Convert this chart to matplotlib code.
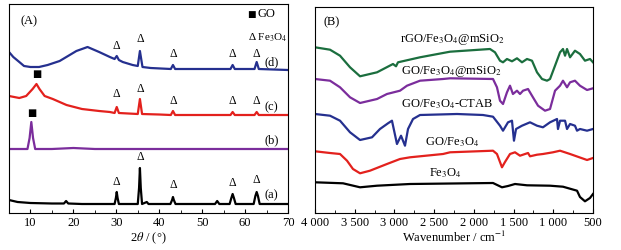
import matplotlib
matplotlib.use("Agg")
import matplotlib.pyplot as plt
from matplotlib.ticker import MultipleLocator, FuncFormatter

plt.rcParams['font.family'] = ['Liberation Serif', 'DejaVu Sans']
plt.rcParams['mathtext.fontset'] = 'stix'

# ---- XRD data (2theta in degrees, intensity in arbitrary units) ----
xrd_a_x = [5, 7, 10, 15, 17.8, 18.3, 18.8, 22, 29.6, 29.9, 30.1, 30.3, 30.6, 35.0, 35.3, 35.5, 35.7, 36.0,
           37.1, 37.5, 42.6, 43.0, 43.2, 43.4, 43.8, 53.0, 53.5, 54.0, 56.4, 56.8, 57.1, 57.4, 57.8,
           62.0, 62.4, 62.7, 63.0, 63.4, 70]
xrd_a_y = [13, 11, 10, 9.5, 9.5, 12, 9.5, 9, 9, 15, 21, 15, 9, 9, 25, 45, 25, 9,
           11, 9, 9, 13, 16, 13, 9, 9, 12, 9, 9, 15, 19, 15, 9,
           9, 17, 21, 17, 9, 9]

xrd_b_x = [5, 9.3, 9.8, 10.2, 10.6, 11.1, 15, 20, 25, 70]
xrd_b_y = [64, 64, 75, 91, 75, 64, 64, 65, 64, 64]

xrd_c_x = [5, 7.4, 9, 10.5, 11.4, 12.1, 13.3, 15.2, 18.4, 22, 26, 28.5, 29.6, 30.1, 30.6, 35.0, 35.5,
           36.0, 40, 42.7, 43.2, 43.7, 50, 56.6, 57.1, 57.6, 62.2, 62.7, 63.2, 70]
xrd_c_y = [117, 115, 117, 124, 129, 124, 117, 114, 108, 104, 102, 101, 100, 106, 100, 99, 114,
           99, 98.5, 98, 102, 98, 98, 98, 101, 98, 98, 101, 98, 98]

xrd_d_x = [5, 6, 7.4, 8.5, 10, 12, 14, 16.8, 20.7, 23.3, 26, 28.5, 29.6, 30.1, 30.6, 31.5, 33.8,
           35.0, 35.5, 36.1, 38, 42.7, 43.2, 43.7, 50, 56.6, 57.1, 57.6, 62.2, 62.7, 63.2, 70]
xrd_d_y = [161, 156, 151, 147, 146, 146, 148, 152, 162, 166, 161, 156, 154, 157, 153, 151, 148,
           147, 162, 146, 145, 144, 148, 144, 144, 144, 148, 144, 144, 151, 144, 143]

# peak markers (2theta) for Fe3O4 and GO
fe_peaks = [30.1, 35.5, 43.2, 57.1, 62.7]
fe_mark_d = [162, 169, 154, 154, 154]
fe_mark_c = [114, 119, 107, 107, 107]
fe_mark_a = [26, 51, 23, 25, 28]
go_peaks = [11.5, 10.2]
go_mark = [135, 96]

# ---- FTIR data (wavenumber cm-1, transmittance arbitrary units) ----
ir_fe_x = [4000, 3647, 3433, 3219, 2804, 1759, 1646, 1570, 1482, 1331, 1041, 878, 701, 664, 601, 538, 500]
ir_fe_y = [30.7, 29.7, 25.7, 27.3, 29, 30, 25.7, 27, 29, 27.7, 27.3, 26.3, 22.3, 16, 11.7, 15, 19]

ir_go_x = [4000, 3811, 3685, 3597, 3522, 3433, 3308, 3094, 2930, 2804, 2388, 2300, 1759, 1709, 1646,
           1608, 1545, 1482, 1419, 1318, 1293, 1205, 1130, 1004, 915, 789, 575, 500]
ir_go_y = [61.7, 60, 59, 52.3, 44, 39.7, 42.3, 49, 54, 55.7, 59, 60.7, 62.3, 59, 45.7,
           51, 59, 60.7, 57.3, 60, 56.7, 58.3, 59, 60.7, 62.3, 59, 53, 55]

ir_ctab_x = [4000, 3811, 3685, 3559, 3433, 3282, 3182, 3081, 3031, 2968, 2917, 2867, 2829, 2766,
             2678, 2212, 1885, 1759, 1671, 1633, 1570, 1520, 1495, 1469, 1394, 1293, 1205, 1130,
             1041, 953, 941, 915, 852, 827, 789, 727, 701, 664, 575, 500]
ir_ctab_y = [99, 97.3, 92.3, 80.7, 73, 75.7, 84, 89.7, 92.3, 69, 77.3, 67.3, 84, 94,
             98, 99, 98, 96.3, 87.3, 82.3, 90.7, 92.3, 72.3, 84, 87.3, 90.7, 87.3, 85.7,
             90.7, 94, 84, 92.3, 92.3, 84, 89, 87.3, 82.3, 84, 82.3, 84]

ir_gom_x = [4000, 3811, 3685, 3559, 3433, 3219, 3094, 2930, 2842, 2678, 2388, 2300, 1759, 1709,
            1671, 1633, 1583, 1545, 1508, 1457, 1419, 1381, 1318, 1256, 1192, 1104, 1041, 978,
            915, 878, 827, 789, 727, 664, 575, 500]
ir_gom_y = [134, 132.3, 125.7, 115.7, 110, 114, 119, 122.3, 127.3, 132.3, 134, 134.7, 134, 125.7,
            112.3, 109, 120.7, 127.3, 119, 122.3, 119, 122.3, 124, 115.7, 107.3, 102.3, 104, 122.3,
            127.3, 132.3, 125.7, 130.7, 132.3, 127.3, 123, 124.7]

ir_rgo_x = [4000, 3811, 3685, 3559, 3433, 3219, 3018, 2980, 2955, 2678, 2388, 2300, 1797, 1734,
            1671, 1633, 1583, 1520, 1457, 1394, 1331, 1268, 1205, 1142, 1079, 1041, 978, 915,
            878, 852, 827, 789, 727, 664, 601, 538, 500]
ir_rgo_y = [165.7, 163.3, 157.3, 145.7, 136.7, 140.7, 149, 146.7, 150.7, 155.7, 160, 161.3, 164, 160.7,
            152.3, 150.7, 154, 151.7, 154.7, 150.7, 154, 152.3, 140.7, 134, 132.3, 134, 147.3, 160.7,
            164, 157.3, 164, 155.7, 162.3, 159, 152.3, 154, 150.7]

fig = plt.figure(figsize=(6.21, 2.51), dpi=100)

# ---------------- panel A ----------------
axA = fig.add_axes([9 / 621, 37 / 251, 279 / 621, 209 / 251])
axA.plot(xrd_a_x, xrd_a_y, color='black', lw=1.6)
axA.plot(xrd_b_x, xrd_b_y, color='#7b2d9c', lw=1.6)
axA.plot(xrd_c_x, xrd_c_y, color='#e3211d', lw=1.6)
axA.plot(xrd_d_x, xrd_d_y, color='#25308f', lw=1.6)
axA.set_xlim(5, 70)
axA.set_ylim(0, 209)
axA.xaxis.set_major_locator(MultipleLocator(10))
axA.xaxis.set_minor_locator(MultipleLocator(5))
axA.set_yticks([])
axA.tick_params(axis='x', which='both', direction='in', labelsize=9, pad=2)
axA.tick_params(axis='x', which='major', length=3)
axA.tick_params(axis='x', which='minor', length=2)
axA.set_xlabel(r'2$\theta$ / (°)', fontsize=9, labelpad=1)

for marks in (fe_mark_d, fe_mark_c, fe_mark_a):
    for px, py in zip(fe_peaks, marks):
        axA.text(px, py, 'Δ', ha='center', va='bottom', fontsize=8.5)
for px, py in zip(go_peaks, go_mark):
    axA.text(px, py, '■', ha='center', va='bottom', fontsize=7, family=['DejaVu Sans'])

axA.text(0.04, 0.92, '(A)', transform=axA.transAxes, fontsize=9, va='center')
axA.text(0.87, 0.955, '■', transform=axA.transAxes, fontsize=6.5, va='center', ha='center',
         family=['DejaVu Sans'])
axA.text(0.89, 0.955, 'GO', transform=axA.transAxes, fontsize=9, va='center')
axA.text(0.855, 0.845, r'Δ Fe$_3$O$_4$', transform=axA.transAxes, fontsize=8, va='center')
axA.text(0.94, 0.725, '(d)', transform=axA.transAxes, fontsize=9, va='center', ha='center')
axA.text(0.94, 0.51, '(c)', transform=axA.transAxes, fontsize=9, va='center', ha='center')
axA.text(0.94, 0.355, '(b)', transform=axA.transAxes, fontsize=9, va='center', ha='center')
axA.text(0.94, 0.09, '(a)', transform=axA.transAxes, fontsize=9, va='center', ha='center')

# ---------------- panel B ----------------
axB = fig.add_axes([315 / 621, 37 / 251, 278 / 621, 206 / 251])
axB.plot(ir_fe_x, ir_fe_y, color='black', lw=1.6)
axB.plot(ir_go_x, ir_go_y, color='#e3211d', lw=1.6)
axB.plot(ir_ctab_x, ir_ctab_y, color='#25308f', lw=1.6)
axB.plot(ir_gom_x, ir_gom_y, color='#7b2d9c', lw=1.6)
axB.plot(ir_rgo_x, ir_rgo_y, color='#1b6e3e', lw=1.6)
axB.set_xlim(4000, 500)
axB.set_ylim(0, 206)
axB.xaxis.set_major_locator(MultipleLocator(500))
axB.xaxis.set_minor_locator(MultipleLocator(250))
axB.xaxis.set_major_formatter(FuncFormatter(lambda v, p: f'{int(v):,}'.replace(',', ' ')))
axB.set_yticks([])
axB.tick_params(axis='x', which='both', direction='in', labelsize=9, pad=2)
axB.tick_params(axis='x', which='major', length=3)
axB.tick_params(axis='x', which='minor', length=2)
axB.set_xlabel(r'Wavenumber / cm$^{-1}$', fontsize=9, labelpad=1)

axB.text(0.03, 0.93, '(B)', transform=axB.transAxes, fontsize=9, va='center')
axB.text(0.495, 0.845, r'rGO/Fe$_3$O$_4$@mSiO$_2$', transform=axB.transAxes, fontsize=9, ha='center', va='center')
axB.text(0.49, 0.69, r'GO/Fe$_3$O$_4$@mSiO$_2$', transform=axB.transAxes, fontsize=9, ha='center', va='center')
axB.text(0.475, 0.535, r'GO/Fe$_3$O$_4$-CTAB', transform=axB.transAxes, fontsize=9, ha='center', va='center')
axB.text(0.495, 0.35, r'GO/Fe$_3$O$_4$', transform=axB.transAxes, fontsize=9, ha='center', va='center')
axB.text(0.47, 0.2, r'Fe$_3$O$_4$', transform=axB.transAxes, fontsize=9, ha='center', va='center')

fig.savefig('out.png', dpi=100)
